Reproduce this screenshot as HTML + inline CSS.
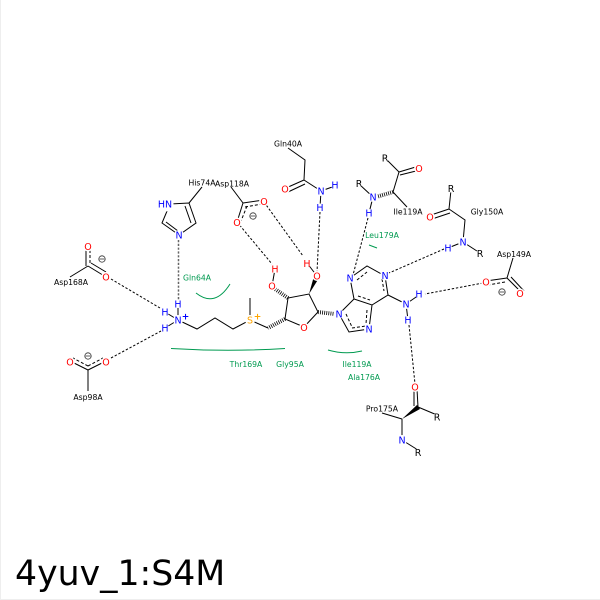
<!DOCTYPE html>
<html>
<head>
<meta charset="utf-8">
<style>
html,body{margin:0;padding:0;background:#fff;width:600px;height:600px;overflow:hidden}
svg{display:block}
text{font-family:"DejaVu Sans",sans-serif}
.b line,.b polyline,.b polygon{stroke:#000;stroke-width:1;fill:none}
.d line{stroke:#000;stroke-width:1;stroke-dasharray:2.4 1.8}
.h line{stroke:#000;stroke-width:4;stroke-dasharray:.8 1.3}
.a text{font-size:9.5px;text-anchor:middle}
.blue{fill:#0000ff}.red{fill:#ff0000}.org{fill:#ffa500}.blk{fill:#000}
.l text{font-size:7.7px;text-anchor:middle;fill:#000}
.g text{font-size:7.7px;text-anchor:middle;fill:#009a50}
.g path{fill:none;stroke:#009a50;stroke-width:1}
</style>
</head>
<body>
<svg width="600" height="600" viewBox="0 0 600 600" xmlns="http://www.w3.org/2000/svg">
<rect width="600" height="600" fill="#fff"/>
<path d="M.5 0V599.5H600" fill="none" stroke="#eeeeee" stroke-width="1"/>

<g class="d">
<line x1="264" y1="202" x2="303" y2="256"/>
<line x1="237" y1="222" x2="272" y2="264"/>
<line x1="320" y1="212" x2="317" y2="272"/>
<line x1="368" y1="218" x2="353" y2="275"/>
<line x1="444" y1="249" x2="389" y2="273"/>
<line x1="483" y1="283" x2="425" y2="294"/>
<line x1="409" y1="325" x2="415" y2="384"/>
<line x1="111" y1="279" x2="160" y2="308"/>
<line x1="111" y1="358" x2="161" y2="331"/>
<line x1="178.5" y1="240" x2="178.5" y2="300" style="stroke-width:1.5;stroke:#666;stroke-dasharray:2.2 1.6"/>
</g>

<g class="h">
<line x1="285" y1="319" x2="268" y2="328"/>
<line x1="318" y1="312" x2="335" y2="314"/>
<line x1="288" y1="298" x2="275" y2="289"/>
<line x1="393" y1="192" x2="376" y2="197"/>
</g>

<g class="b">
<polygon points="170,204 189,203 196,223 179,235 162,223"/>
<line x1="166" y1="222" x2="178" y2="231"/>
<line x1="189" y1="203" x2="202" y2="187"/>
<line x1="185" y1="206" x2="191" y2="223"/>
<line x1="231" y1="187" x2="243" y2="203"/>
<line x1="243" y1="203" x2="264" y2="200"/>
<line x1="245" y1="207" x2="262" y2="204" stroke-dasharray="3 2"/>
<line x1="243" y1="203" x2="237" y2="222"/>
<line x1="247" y1="206" x2="241" y2="221" stroke-dasharray="3 2"/>
<polyline points="288,148 305,160 304,180 321,191"/>
<line x1="304" y1="180" x2="286" y2="188"/>
<line x1="305" y1="184" x2="288" y2="192"/>
<line x1="321" y1="191" x2="335" y2="186"/>
<line x1="321" y1="191" x2="320" y2="207"/>
<line x1="385" y1="158" x2="399" y2="172"/>
<line x1="399" y1="172" x2="419" y2="166"/>
<line x1="400" y1="175" x2="420" y2="170"/>
<line x1="399" y1="172" x2="393" y2="192"/>
<line x1="393" y1="192" x2="407" y2="207"/>
<line x1="373" y1="197" x2="359" y2="184"/>
<line x1="373" y1="197" x2="369" y2="213"/>
<line x1="451" y1="190" x2="449" y2="209"/>
<line x1="449" y1="209" x2="431" y2="215"/>
<line x1="450" y1="213" x2="432" y2="219"/>
<polyline points="449,209 465,220 463,242"/>
<line x1="463" y1="242" x2="480" y2="253"/>
<line x1="463" y1="242" x2="448" y2="248"/>
<line x1="513" y1="258" x2="507" y2="278"/>
<line x1="507" y1="278" x2="486" y2="281"/>
<line x1="505" y1="282" x2="488" y2="285" stroke-dasharray="3 2"/>
<line x1="507" y1="278" x2="522" y2="293"/>
<line x1="511" y1="277" x2="524" y2="291"/>
<polygon points="350,278 367,266 385,276 388,295 372,305 354,299"/>
<line x1="357" y1="280" x2="367" y2="272" stroke-dasharray="3 2"/>
<line x1="382" y1="279" x2="384" y2="291" stroke-dasharray="3 2"/>
<line x1="358" y1="296" x2="370" y2="300" stroke-dasharray="3 2"/>
<polyline points="354,299 339,314 349,332 369,329 372,305"/>
<line x1="346" y1="314" x2="352" y2="327" stroke-dasharray="3 2"/>
<line x1="352" y1="328" x2="366" y2="326" stroke-dasharray="3 2"/>
<line x1="367" y1="310" x2="366" y2="324" stroke-dasharray="3 2"/>
<line x1="388" y1="295" x2="406" y2="304"/>
<line x1="406" y1="304" x2="419" y2="295"/>
<line x1="406" y1="304" x2="408" y2="320"/>
<polygon points="318,312 304,327 285,319 288,298 309,294"/>
<line x1="272" y1="286" x2="275" y2="269"/>
<line x1="317" y1="276" x2="307" y2="263"/>
<polyline points="178,320 197,329 215,318 233,329 250,320 268,328"/>
<line x1="250" y1="320" x2="250" y2="298"/>
<line x1="178" y1="320" x2="178" y2="304"/>
<line x1="178" y1="320" x2="165" y2="312"/>
<line x1="178" y1="320" x2="165" y2="328"/>
<line x1="88" y1="266" x2="70" y2="277"/>
<line x1="88" y1="266" x2="106" y2="277"/>
<line x1="91" y1="263" x2="106" y2="272"/>
<line x1="86" y1="266" x2="86" y2="249"/>
<line x1="90" y1="263" x2="90" y2="249" stroke-dasharray="3 2"/>
<line x1="88" y1="370" x2="88" y2="391"/>
<line x1="88" y1="370" x2="70" y2="361"/>
<line x1="88" y1="366" x2="73" y2="358" stroke-dasharray="3 2"/>
<line x1="88" y1="370" x2="106" y2="361"/>
<line x1="88" y1="366" x2="103" y2="358" stroke-dasharray="3 2"/>
<line x1="382" y1="413" x2="402" y2="419"/>
<line x1="402" y1="419" x2="402" y2="440"/>
<line x1="402" y1="440" x2="418" y2="450"/>
<line x1="418" y1="407" x2="437" y2="415"/>
<line x1="414" y1="406" x2="414" y2="389"/>
<line x1="418" y1="407" x2="417" y2="389"/>
</g>
<polygon points="402,419 417,405 420,409" fill="#000"/>
<polygon points="309,294 314,276 319,278" fill="#000"/>

<g fill="#fff">
<circle cx="166" cy="204" r="7.5"/>
<circle cx="179" cy="235" r="5"/>
<circle cx="264" cy="201.5" r="5"/>
<circle cx="237" cy="222.5" r="5"/>
<circle cx="285" cy="189" r="5"/>
<circle cx="321" cy="191" r="5"/>
<circle cx="335" cy="185" r="4"/>
<circle cx="320" cy="207.5" r="4"/>
<circle cx="419" cy="168.5" r="5"/>
<circle cx="385" cy="158" r="4"/>
<circle cx="359" cy="183.5" r="4"/>
<circle cx="373" cy="197" r="5"/>
<circle cx="369" cy="213" r="4"/>
<circle cx="451" cy="188.5" r="4"/>
<circle cx="430" cy="217" r="5"/>
<circle cx="463" cy="242" r="5"/>
<circle cx="448" cy="248" r="4"/>
<circle cx="480" cy="253.5" r="4"/>
<circle cx="486" cy="282" r="5"/>
<circle cx="520" cy="293.5" r="5"/>
<circle cx="350" cy="278" r="5"/>
<circle cx="385" cy="275.5" r="5"/>
<circle cx="339" cy="314" r="5"/>
<circle cx="369" cy="329" r="5"/>
<circle cx="406" cy="304" r="5"/>
<circle cx="419" cy="294" r="4"/>
<circle cx="408" cy="320" r="4"/>
<circle cx="304" cy="327.5" r="5"/>
<circle cx="317" cy="276" r="5"/>
<circle cx="307" cy="263.5" r="4"/>
<circle cx="272" cy="286" r="5"/>
<circle cx="275" cy="269" r="4"/>
<circle cx="178" cy="320" r="5"/>
<circle cx="178" cy="304" r="4"/>
<circle cx="165" cy="312" r="4"/>
<circle cx="165" cy="328" r="4"/>
<circle cx="250" cy="320" r="5"/>
<circle cx="106" cy="277" r="5"/>
<circle cx="88" cy="246.5" r="5"/>
<circle cx="70" cy="362" r="5"/>
<circle cx="106" cy="362" r="5"/>
<circle cx="415" cy="387" r="5"/>
<circle cx="437" cy="417" r="4"/>
<circle cx="402" cy="440" r="5"/>
<circle cx="418" cy="452.5" r="4"/>
</g>

<g class="a">
<text class="blue" x="165" y="207.5">HN</text>
<text class="blue" x="179" y="238.5">N</text>
<text class="red" x="264" y="205">O</text>
<text class="red" x="237" y="226">O</text>
<text class="red" x="285" y="192.5">O</text>
<text class="blue" x="321" y="194.5">N</text>
<text class="blue" x="335" y="188.5">H</text>
<text class="blue" x="320" y="211">H</text>
<text class="red" x="419" y="172">O</text>
<text class="blk" x="385" y="161.5">R</text>
<text class="blk" x="359" y="187">R</text>
<text class="blue" x="373" y="200.5">N</text>
<text class="blue" x="369" y="216.5">H</text>
<text class="blk" x="451" y="192">R</text>
<text class="red" x="430" y="220.5">O</text>
<text class="blue" x="463" y="245.5">N</text>
<text class="blue" x="448" y="251.5">H</text>
<text class="blk" x="480" y="257">R</text>
<text class="red" x="486" y="285.5">O</text>
<text class="red" x="520" y="297">O</text>
<text class="blue" x="350" y="281.5">N</text>
<text class="blue" x="385" y="279">N</text>
<text class="blue" x="339" y="317.5">N</text>
<text class="blue" x="369" y="332.5">N</text>
<text class="blue" x="406" y="307.5">N</text>
<text class="blue" x="419" y="297.5">H</text>
<text class="blue" x="408" y="323.5">H</text>
<text class="red" x="304" y="331">O</text>
<text class="red" x="317" y="279.5">O</text>
<text class="red" x="307" y="267">H</text>
<text class="red" x="272" y="289.5">O</text>
<text class="red" x="275" y="272.5">H</text>
<text class="blue" x="178" y="323.5">N</text>
<text class="blue" x="178" y="307.5">H</text>
<text class="blue" x="165" y="315.5">H</text>
<text class="blue" x="165" y="331.5">H</text>
<text class="org" x="250" y="323.5">S</text>
<text class="red" x="106" y="280.5">O</text>
<text class="red" x="88" y="250">O</text>
<text class="red" x="70" y="365.5">O</text>
<text class="red" x="106" y="365.5">O</text>
<text class="red" x="415" y="390.5">O</text>
<text class="blk" x="437" y="420.5">R</text>
<text class="blue" x="402" y="443.5">N</text>
<text class="blk" x="418" y="456">R</text>
</g>
<g style="font-size:9px;text-anchor:middle;font-weight:bold">
<text x="185.5" y="319.5" fill="#0000ff">+</text>
<text x="257.5" y="319.5" fill="#ffa500">+</text>
</g>
<g fill="none" stroke="#333" stroke-width=".8">
<circle cx="253" cy="216" r="3.2"/><line x1="250.5" y1="216" x2="255.5" y2="216"/>
<circle cx="102" cy="259" r="3.2"/><line x1="99.5" y1="259" x2="104.5" y2="259"/>
<circle cx="88" cy="356" r="3.2"/><line x1="85.5" y1="356" x2="90.5" y2="356"/>
<circle cx="502" cy="292" r="3.2"/><line x1="499.5" y1="292" x2="504.5" y2="292"/>
</g>

<g class="l">
<text x="202" y="185.5">His74A</text>
<text x="232" y="186.5">Asp118A</text>
<text x="288" y="146.5">Gln40A</text>
<text x="408" y="214.5">Ile119A</text>
<text x="487" y="214.5">Gly150A</text>
<text x="514" y="257">Asp149A</text>
<text x="71" y="285">Asp168A</text>
<text x="88" y="400">Asp98A</text>
<text x="382" y="411.5">Pro175A</text>
</g>

<g class="g">
<text x="197" y="280.5">Gln64A</text>
<text x="246" y="367">Thr169A</text>
<text x="290" y="367">Gly95A</text>
<text x="357" y="367">Ile119A</text>
<text x="364" y="380">Ala176A</text>
<text x="382" y="238">Leu179A</text>
<path d="M196 293Q215 308 230 284"/>
<path d="M171 348.5Q228 352 285 348.5"/>
<path d="M328 350Q345 355 362 351"/>
<path d="M369 245L377 248"/>
</g>

<text x="15" y="585" style="font-size:34.7px" fill="#000">4yuv_1:S4M</text>
</svg>
</body>
</html>
